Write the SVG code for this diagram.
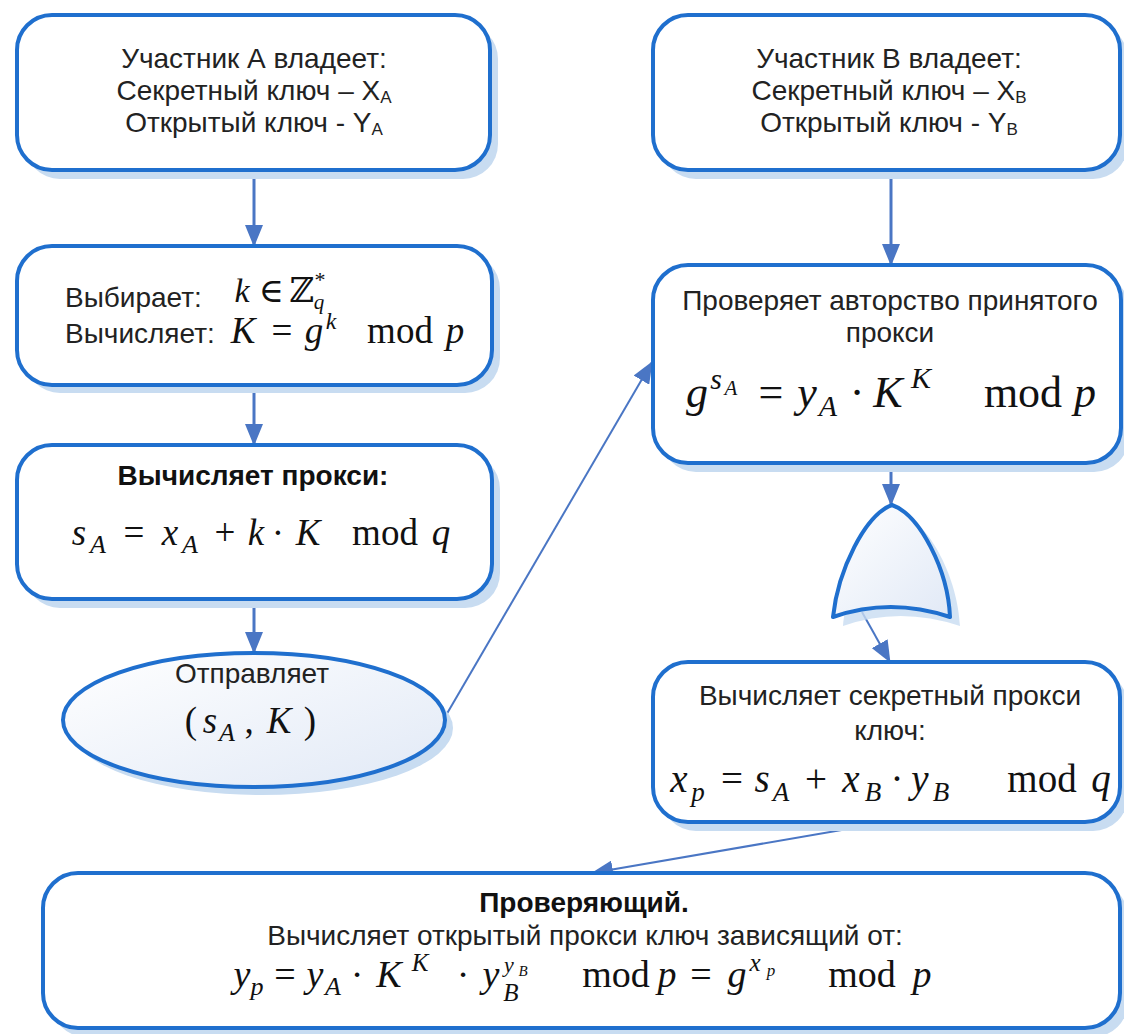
<svg xmlns="http://www.w3.org/2000/svg" width="1124" height="1034" viewBox="0 0 1124 1034">
<defs>
<style>
.box{fill:#ffffff;stroke:#1f6fce;stroke-width:4}
.shd{fill:#c8dcf1;stroke:none}
.t{font-family:"Liberation Sans",Arial,sans-serif;font-size:28px;fill:#222}
.tb{font-family:"Liberation Sans",Arial,sans-serif;font-size:28px;font-weight:bold;fill:#111}
.mi{font-family:"Liberation Serif","DejaVu Serif",serif;font-style:italic;fill:#111;text-anchor:middle}
.mr{font-family:"Liberation Serif","DejaVu Serif",serif;font-style:normal}
.sym{font-family:"DejaVu Serif",serif;font-style:normal}
.cv{fill:none;stroke:#4a76c4;stroke-width:3}
.cd{fill:none;stroke:#4a76c4;stroke-width:2}
</style>
<marker id="ah" markerWidth="22" markerHeight="18" refX="21" refY="9" orient="auto" markerUnits="userSpaceOnUse">
<path d="M0,0 L22,9 L0,18 Z" fill="#4a76c4"/>
</marker>
<linearGradient id="gf" x1="0" y1="0" x2="1" y2="1">
<stop offset="0" stop-color="#ffffff"/>
<stop offset="1" stop-color="#e1e9f6"/>
</linearGradient>
</defs>

<g id="connectors">
<line class="cv" x1="254" y1="170" x2="254" y2="246" marker-end="url(#ah)"/>
<line class="cv" x1="254" y1="385" x2="254" y2="445" marker-end="url(#ah)"/>
<line class="cv" x1="254" y1="599" x2="254" y2="653" marker-end="url(#ah)"/>
<line class="cv" x1="891" y1="170" x2="891" y2="265" marker-end="url(#ah)"/>
<line class="cv" x1="891" y1="463" x2="891" y2="505" marker-end="url(#ah)"/>
<line class="cd" x1="862" y1="612" x2="890" y2="662" marker-end="url(#ah)"/>
<line class="cd" x1="445" y1="717" x2="652" y2="362" marker-end="url(#ah)"/>
<line class="cd" x1="888" y1="822" x2="592" y2="873" marker-end="url(#ah)"/>
</g>

<g id="nodeA1">
<rect class="shd" x="25" y="24" width="473" height="155" rx="35"/>
<rect class="box" x="17" y="15" width="473" height="155" rx="35"/>
<text class="t" x="254" y="68" text-anchor="middle">Участник А владеет:</text>
<text class="t" x="254" y="100" text-anchor="middle">Секретный ключ – X<tspan font-size="17" dy="3">A</tspan></text>
<text class="t" x="254" y="132" text-anchor="middle">Открытый ключ - Y<tspan font-size="17" dy="3">A</tspan></text>
</g>

<g id="nodeA2">
<rect class="shd" x="25" y="254" width="475" height="139" rx="35"/>
<rect class="box" x="17" y="246" width="475" height="139" rx="35"/>
<text class="t" x="65" y="307">Выбирает:</text>
<text class="t" x="65" y="343">Вычисляет:</text>
<text class="mi" font-size="34"><tspan x="242" y="302">k</tspan><tspan class="sym" x="271" y="302">∈</tspan><tspan class="sym" x="302" y="302">ℤ</tspan><tspan class="mr" x="320" y="287" font-size="22">*</tspan><tspan x="319" y="309" font-size="21">q</tspan></text>
<text class="mi" font-size="37"><tspan x="243" y="343">K</tspan><tspan class="mr" x="282" y="343">=</tspan><tspan x="314" y="343">g</tspan><tspan x="331" y="329" font-size="24">k</tspan><tspan class="mr" x="400" y="343">mod</tspan><tspan x="455" y="343">p</tspan></text>
</g>

<g id="nodeA3">
<rect class="shd" x="25" y="454" width="475" height="154" rx="35"/>
<rect class="box" x="17" y="445" width="475" height="154" rx="35"/>
<text class="tb" x="253" y="485" text-anchor="middle">Вычисляет прокси:</text>
<text class="mi" font-size="37"><tspan x="79" y="545">s</tspan><tspan x="98" y="553" font-size="26">A</tspan><tspan class="mr" x="134" y="545">=</tspan><tspan x="170" y="545">x</tspan><tspan x="190" y="553" font-size="26">A</tspan><tspan class="mr" x="225" y="545">+</tspan><tspan x="256" y="545">k</tspan><tspan class="mr" x="278" y="545">·</tspan><tspan x="308" y="545">K</tspan><tspan class="mr" x="385" y="545">mod</tspan><tspan x="441" y="545">q</tspan></text>
</g>

<g id="nodeSend">
<ellipse class="shd" cx="262" cy="728" rx="191" ry="67"/>
<ellipse cx="254" cy="720" rx="191" ry="67" fill="url(#gf)" stroke="#1f6fce" stroke-width="4"/>
<text class="t" x="252" y="683" text-anchor="middle">Отправляет</text>
<text class="mi" font-size="37"><tspan class="mr" x="191" y="733">(</tspan><tspan x="210" y="733">s</tspan><tspan x="227" y="741" font-size="26">A</tspan><tspan class="mr" x="249" y="733">,</tspan><tspan x="279" y="733">K</tspan><tspan class="mr" x="310" y="733">)</tspan></text>
</g>

<g id="nodeB1">
<rect class="shd" x="661" y="24" width="467" height="155" rx="35"/>
<rect class="box" x="653" y="15" width="467" height="155" rx="35"/>
<text class="t" x="889" y="68" text-anchor="middle">Участник В владеет:</text>
<text class="t" x="889" y="100" text-anchor="middle">Секретный ключ – X<tspan font-size="17" dy="3">B</tspan></text>
<text class="t" x="889" y="132" text-anchor="middle">Открытый ключ - Y<tspan font-size="17" dy="3">B</tspan></text>
</g>

<g id="nodeB2">
<rect class="shd" x="661" y="274" width="468" height="198" rx="35"/>
<rect class="box" x="653" y="265" width="468" height="198" rx="35"/>
<text class="t" x="890" y="310" text-anchor="middle">Проверяет авторство принятого</text>
<text class="t" x="890" y="342" text-anchor="middle">прокси</text>
<text class="mi" font-size="44"><tspan x="697" y="407">g</tspan><tspan x="716" y="389" font-size="30">s</tspan><tspan x="731" y="395" font-size="21">A</tspan><tspan class="mr" x="771" y="407">=</tspan><tspan x="807" y="407">y</tspan><tspan x="828" y="416" font-size="30">A</tspan><tspan class="mr" x="857" y="407">·</tspan><tspan x="888" y="407">K</tspan><tspan x="921" y="388" font-size="30">K</tspan><tspan class="mr" x="1023" y="407">mod</tspan><tspan x="1085" y="407">p</tspan></text>
</g>

<g id="nodeDecision">
<path d="M902,514 C875,524 848,579 843,626 Q900,606 960,626 C958,579 930,524 902,514 Z" class="shd" opacity="0.8"/>
<path d="M892,505 C865,515 838,570 833,617 Q890,597 950,617 C948,570 920,515 892,505 Z" fill="url(#gf)" stroke="#1f6fce" stroke-width="4" stroke-linejoin="round"/>
</g>

<g id="nodeB3">
<rect class="shd" x="661" y="671" width="467" height="160" rx="35"/>
<rect class="box" x="653" y="662" width="467" height="160" rx="35"/>
<text class="t" x="890" y="705" text-anchor="middle">Вычисляет секретный прокси</text>
<text class="t" x="890" y="740" text-anchor="middle">ключ:</text>
<text class="mi" font-size="39"><tspan x="679" y="792">x</tspan><tspan x="698" y="801" font-size="27">p</tspan><tspan class="mr" x="732" y="792">=</tspan><tspan x="762" y="792">s</tspan><tspan x="781" y="801" font-size="27">A</tspan><tspan class="mr" x="816" y="792">+</tspan><tspan x="851" y="792">x</tspan><tspan x="873" y="801" font-size="27">B</tspan><tspan class="mr" x="897" y="792">·</tspan><tspan x="920" y="792">y</tspan><tspan x="941" y="801" font-size="27">B</tspan><tspan class="mr" x="1042" y="792">mod</tspan><tspan x="1101" y="792">q</tspan></text>
</g>

<g id="nodeVerifier">
<rect class="shd" x="51" y="882" width="1077" height="155" rx="35"/>
<rect class="box" x="43" y="873" width="1077" height="155" rx="35"/>
<text class="tb" x="584" y="912" text-anchor="middle">Проверяющий.</text>
<text class="t" x="585" y="945" text-anchor="middle">Вычисляет открытый прокси ключ зависящий от:</text>
<text class="mi" font-size="38"><tspan x="242" y="987">y</tspan><tspan x="257" y="995" font-size="26">p</tspan><tspan class="mr" x="285" y="987">=</tspan><tspan x="315" y="987">y</tspan><tspan x="333" y="995" font-size="26">A</tspan><tspan class="mr" x="357" y="987">·</tspan><tspan x="389" y="987">K</tspan><tspan x="420" y="971" font-size="25">K</tspan><tspan class="mr" x="463" y="987">·</tspan><tspan x="491" y="987">y</tspan><tspan x="509" y="972" font-size="22">y</tspan><tspan x="523" y="976" font-size="15">B</tspan><tspan x="511" y="1001" font-size="25">B</tspan><tspan class="mr" x="616" y="987">mod</tspan><tspan x="667" y="987">p</tspan><tspan class="mr" x="701" y="987">=</tspan><tspan x="737" y="987">g</tspan><tspan x="755" y="971" font-size="25">x</tspan><tspan x="771" y="976" font-size="17">p</tspan><tspan class="mr" x="862" y="987">mod</tspan><tspan x="922" y="987">p</tspan></text>
</g>
</svg>
